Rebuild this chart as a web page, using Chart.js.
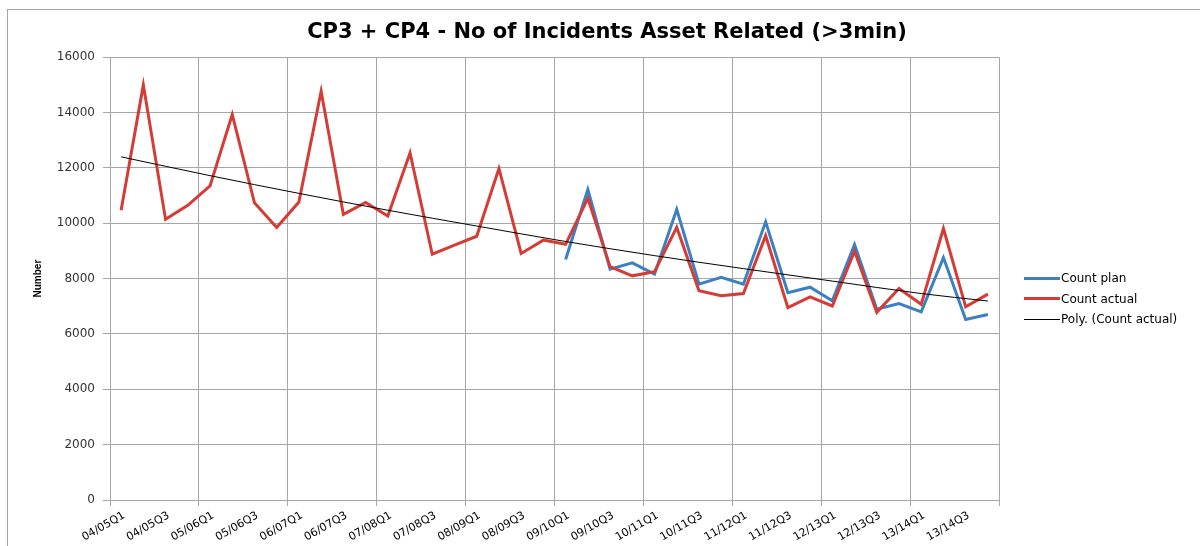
<!DOCTYPE html>
<html>
<head>
<meta charset="utf-8">
<script src="https://cdn.jsdelivr.net/npm/chart.js@4.4.1/dist/chart.umd.min.js"></script>
<style>
  html, body { margin: 0; padding: 0; background: #fff; overflow: hidden; }
  #frame { position: absolute; left: 7px; top: 9px; width: 1300px; height: 700px; border: 1px solid #a6a6a6; }
  #chart { position: absolute; left: 0; top: 0; }
  #legend { position: absolute; left: 1024px; top: 268px; font: 12px 'DejaVu Sans', sans-serif; color: #000; }
  #legend .row { height: 20.5px; display: flex; align-items: center; white-space: nowrap; }
  #legend .swatch { width: 36px; margin-right: 1px; }
</style>
</head>
<body>
<div id="frame"></div>
<canvas id="chart" width="1200" height="546"></canvas>
<div id="legend"></div>
<script>
// ================== DỮ LIỆU ==================
const years = ["04/05", "05/06", "06/07", "07/08", "08/09", "09/10", "10/11", "11/12", "12/13", "13/14"];
const quarters = ["Q1", "Q2", "Q3", "Q4"];
const categories = years.flatMap(y => quarters.map(q => y + q));

const countActual = [
  10470, 15000, 10140, 10650, 11350, 13930, 10740, 9850, 10770, 14770,
  10320, 10750, 10260, 12540, 8880, 9210, 9530, 11980, 8910, 9390,
  9240, 10900, 8430, 8100, 8250, 9850, 7560, 7380, 7460, 9550,
  6950, 7340, 7010, 8990, 6780, 7640, 7070, 9810, 6980, 7440
];

// plan only starts at 09/10Q1
const countPlan = [
  null, null, null, null, null, null, null, null, null, null,
  null, null, null, null, null, null, null, null, null, null,
  8690, 11220, 8340, 8570, 8160, 10500, 7800, 8050, 7800, 10050,
  7490, 7690, 7200, 9230, 6890, 7100, 6800, 8760, 6520, 6700
];

// trend line at a few quarters
const trendAt = ["04/05Q1", "05/06Q1", "06/07Q1", "07/08Q1", "08/09Q1", "09/10Q1",
  "10/11Q1", "11/12Q1", "12/13Q1", "13/14Q1", "13/14Q4"];
const trendValues = [12400, 11720, 11080, 10470, 9900, 9340, 8830, 8360, 7910, 7460, 7190];

const yTicks = { min: 0, max: 16000, step: 2000 };

const BLUE = "#3c80c4";
const RED = "#d63c36";
const GRID = "#a6a6a6";
const FONT = "'DejaVu Sans', sans-serif";

const yearLine = c => (c.index === undefined || c.index % 4 === 0) ? GRID : "transparent";

// ================== VẼ ==================
const ctx = document.getElementById("chart").getContext("2d");
const chart = new Chart(ctx, {
  type: "line",
  data: {
    labels: categories,
    datasets: [
      { label: "Count plan", data: countPlan, borderColor: BLUE, backgroundColor: BLUE,
        borderWidth: 3, pointRadius: 0, order: 2 },
      { label: "Count actual", data: countActual, borderColor: RED, backgroundColor: RED,
        borderWidth: 3, pointRadius: 0, order: 1 },
      { label: "Poly. (Count actual)", data: trendAt.map((c, i) => ({ x: c, y: trendValues[i] })),
        borderColor: "#000", backgroundColor: "#000", borderWidth: 1, pointRadius: 0,
        cubicInterpolationMode: "monotone", order: 0 }
    ]
  },
  options: {
    responsive: false,
    animation: false,
    layout: { padding: { left: 14, right: 0, top: 0, bottom: 0 } },
    plugins: {
      title: {
        display: true,
        text: "CP3 + CP4 - No of Incidents Asset Related (>3min)",
        color: "#000",
        font: { family: FONT, size: 21, weight: "bold" },
        padding: { top: 20, bottom: 12 }
      },
      legend: { display: false },
      tooltip: { enabled: false }
    },
    scales: {
      x: {
        offset: true,
        grid: { offset: true, color: yearLine, tickColor: yearLine, tickLength: 6 },
        border: { color: GRID },
        ticks: {
          autoSkip: false,
          minRotation: 30,
          maxRotation: 30,
          padding: 3,
          labelOffset: 3,
          color: "#000",
          font: { family: FONT, size: 11 },
          callback(v, i) { return i % 2 === 0 ? this.getLabelForValue(v) : ""; }
        },
        afterFit(s) { s.height = 46; }
      },
      y: {
        min: yTicks.min,
        max: yTicks.max,
        grid: { color: GRID, tickColor: GRID, tickLength: 7 },
        border: { color: GRID },
        ticks: {
          stepSize: yTicks.step,
          color: "#333",
          font: { family: FONT, size: 12 },
          padding: 8,
          callback: v => String(v)
        },
        title: {
          display: true,
          text: "Number",
          color: "#000",
          font: { family: "'Liberation Sans Narrow', 'Liberation Sans', sans-serif", size: 10, weight: "bold" },
          padding: { top: 18, bottom: 0 }
        },
        afterFit(s) { s.width = 96; }
      },
      // empty scale that only keeps room for the legend on the right
      room: {
        type: "linear",
        position: "right",
        grid: { drawOnChartArea: false, drawTicks: false },
        border: { display: false },
        ticks: { display: false },
        afterFit(s) { s.width = 201; }
      }
    }
  }
});

// ================== CHÚ THÍCH ==================
const legend = document.getElementById("legend");
chart.data.datasets.forEach(ds => {
  const row = document.createElement("div");
  row.className = "row";
  row.innerHTML = `<span class="swatch" style="border-top:${ds.borderWidth}px solid ${ds.borderColor}"></span><span>${ds.label}</span>`;
  legend.appendChild(row);
});
</script>
</body>
</html>
